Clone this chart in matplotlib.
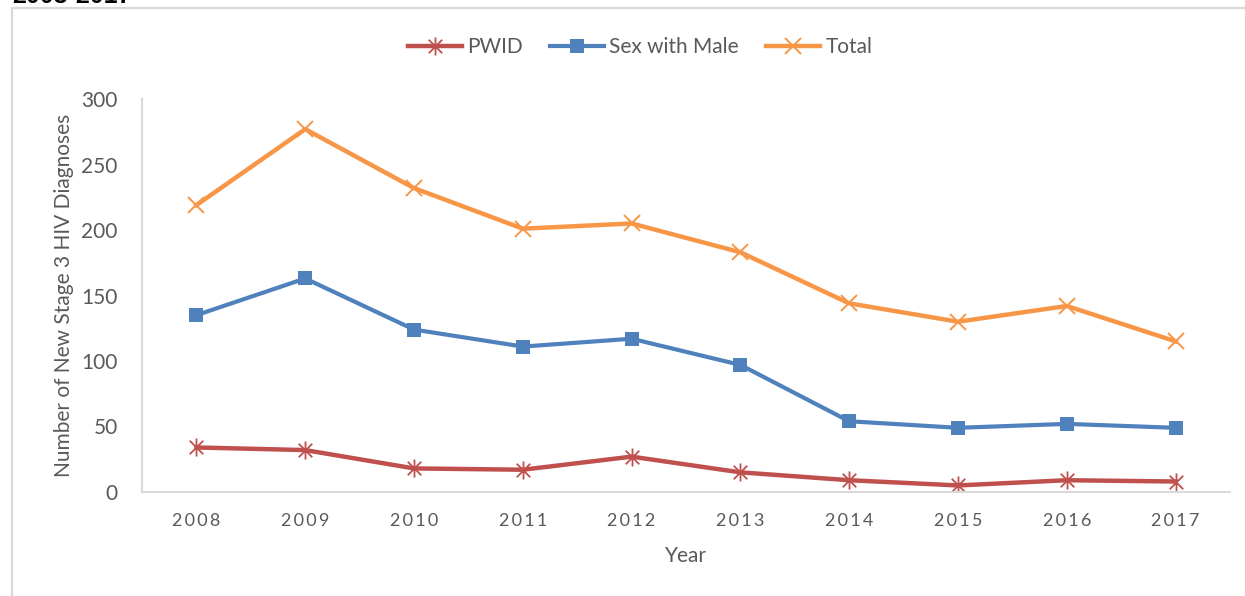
import matplotlib
matplotlib.use("Agg")
import matplotlib.pyplot as plt
from matplotlib.path import Path
from matplotlib.patches import Rectangle

years = ["2008", "2009", "2010", "2011", "2012", "2013", "2014", "2015", "2016", "2017"]
pwid = [34, 32, 18, 17, 27, 15, 9, 5, 9, 8]
msm = [135, 163, 124, 111, 117, 97, 54, 49, 52, 49]
total = [219, 277, 232, 201, 205, 183, 144, 130, 142, 115]
series_names = ["PWID", "Sex with Male", "Total"]
y_ticks = [0, 50, 100, 150, 200, 250, 300]

plt.rcParams['font.family'] = ['Lato', 'DejaVu Sans']
TXT = '#595959'

fig = plt.figure(figsize=(12.45, 5.96), dpi=100)
W, H = 1245, 596

# outer border (partially cut)
fig.patches.append(Rectangle((12 / W, -0.1), 1.2, (596 - 8) / H + 0.1, transform=fig.transFigure,
                             fill=False, edgecolor='#d9d9d9', linewidth=1.6))
# title, cut at the top edge as in the reference
fig.text(12 / W, (596 - 3) / H, "2008-2017", fontsize=18, fontweight='bold', color='black',
         family=['Liberation Sans'], ha='left', va='baseline')

ax = fig.add_axes([142 / W, (596 - 492) / H, 1088 / W, 393 / H])

# star marker (vertical + X)
star = Path([(0, -1), (0, 1), (-0.75, -0.75), (0.75, 0.75), (-0.75, 0.75), (0.75, -0.75)],
            [Path.MOVETO, Path.LINETO, Path.MOVETO, Path.LINETO, Path.MOVETO, Path.LINETO])

x = list(range(len(years)))
ax.plot(x, pwid, color='#C0504D', lw=3.2, marker=star, markersize=13,
        markeredgewidth=1.3, markerfacecolor='none', markeredgecolor='#C0504D', label=series_names[0])
ax.plot(x, msm, color='#4F81BD', lw=3.0, marker='s', markersize=9.5,
        markeredgewidth=0, markerfacecolor='#4F81BD', label=series_names[1])
ax.plot(x, total, color='#F79646', lw=3.2, marker='x', markersize=12,
        markeredgewidth=1.4, markeredgecolor='#F79646', label=series_names[2])

ax.set_xlim(-0.5, len(years) - 0.5)
ax.set_ylim(0, 300)
ax.set_yticks(y_ticks)
ax.set_yticklabels([str(v) for v in y_ticks])
ax.set_xticks(x)
ax.set_xticklabels(["\u2009".join(list(y)) for y in years])

for s in ['top', 'right']:
    ax.spines[s].set_visible(False)
for s in ['left', 'bottom']:
    ax.spines[s].set_color('#d9d9d9')
    ax.spines[s].set_linewidth(1.5)

ax.tick_params(axis='y', length=0, pad=17.5, labelsize=15, labelcolor=TXT)
ax.tick_params(axis='x', length=0, pad=15, labelsize=13, labelcolor=TXT)

ax.set_ylabel("Number of New Stage 3 HIV Diagnoses", fontsize=15, color=TXT, labelpad=5)
ax.set_xlabel("Year", fontsize=15, color=TXT, labelpad=12)

leg = fig.legend(loc='center', bbox_to_anchor=(640 / W, (596 - 47) / H), ncol=3, frameon=False,
                 fontsize=15, handlelength=2.6, handletextpad=0.25, columnspacing=1.3, labelcolor=TXT)

fig.savefig("out.png", dpi=100)
